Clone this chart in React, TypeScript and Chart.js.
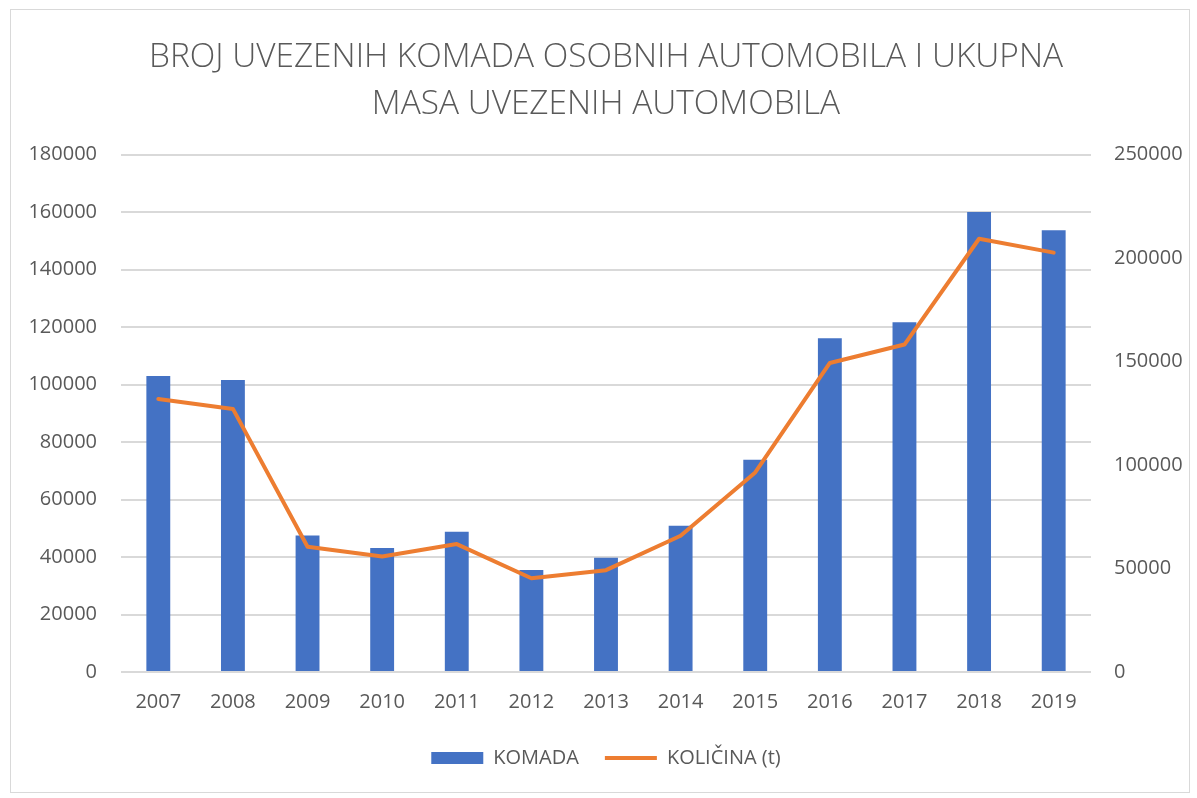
import React, { useEffect, useRef } from "react";
import { Chart, registerables } from "chart.js";

Chart.register(...registerables);

const years = ["2007", "2008", "2009", "2010", "2011", "2012", "2013", "2014", "2015", "2016", "2017", "2018", "2019"];
const komada = [103000, 101600, 47500, 43100, 48800, 35500, 39700, 50900, 73800, 116100, 121700, 160000, 153700];
const kolicina = [131900, 127100, 60500, 55800, 61800, 45300, 49200, 65800, 96400, 149300, 158200, 209300, 202600];
const titleLines = ["BROJ UVEZENIH KOMADA OSOBNIH AUTOMOBILA I UKUPNA", "MASA UVEZENIH AUTOMOBILA"];
const seriesNames = ["KOMADA", "KOLIČINA (t)"];

const TEXT = "#595959";
const GRID = "#d9d9d9";
const BLUE = "#4472C4";
const ORANGE = "#ED7D31";
const FONT = "'Open Sans', 'Liberation Sans', sans-serif";

export default function App() {
  const ref = useRef<HTMLCanvasElement>(null);
  useEffect(() => {
    if (!ref.current) return;
    const chart = new Chart(ref.current, {
      type: "bar",
      data: {
        labels: years,
        datasets: [
          {
            type: "bar",
            label: seriesNames[0],
            data: komada,
            backgroundColor: BLUE,
            borderWidth: 0,
            yAxisID: "y",
            barPercentage: 0.32,
            categoryPercentage: 1,
            order: 2,
          } as any,
          {
            type: "line",
            label: seriesNames[1],
            data: kolicina,
            borderColor: ORANGE,
            backgroundColor: ORANGE,
            borderWidth: 4,
            pointRadius: 0,
            tension: 0,
            borderJoinStyle: "round",
            borderCapStyle: "round",
            yAxisID: "y1",
            order: 1,
          } as any,
        ],
      },
      options: {
        animation: false,
        responsive: true,
        maintainAspectRatio: false,
        layout: { padding: { left: 12, right: 0, top: 0, bottom: 14 } },
        plugins: {
          tooltip: { enabled: false },
          title: {
            display: true,
            text: titleLines,
            color: TEXT,
            font: { family: FONT, size: 33.4, weight: "300" as any, lineHeight: 1.4 },
            padding: { top: 24, bottom: 27 },
          },
          legend: {
            display: true,
            position: "bottom",
            labels: {
              color: TEXT,
              font: { family: FONT, size: 20 },
              usePointStyle: true,
              pointStyleWidth: 52,
              boxHeight: 12,
              padding: 26,
              generateLabels: () => [
                {
                  text: seriesNames[0],
                  fillStyle: BLUE,
                  strokeStyle: BLUE,
                  lineWidth: 0,
                  pointStyle: "rect",
                  datasetIndex: 0,
                  fontColor: TEXT,
                  hidden: false,
                },
                {
                  text: seriesNames[1],
                  fillStyle: ORANGE,
                  strokeStyle: ORANGE,
                  lineWidth: 4,
                  pointStyle: "line",
                  datasetIndex: 1,
                  fontColor: TEXT,
                  hidden: false,
                },
              ],
            },
          },
        },
        scales: {
          x: {
            grid: { display: false },
            border: { display: false },
            ticks: { color: TEXT, font: { family: FONT, size: 20 }, padding: 10, maxRotation: 0 },
            afterFit: (s: any) => {
              s.height = 50;
            },
          },
          y: {
            position: "left",
            min: 0,
            max: 180000,
            ticks: {
              stepSize: 20000,
              color: TEXT,
              font: { family: FONT, size: 20 },
              padding: 24,
              callback: (v: any) => String(v),
            },
            grid: { color: GRID, lineWidth: 2, drawTicks: false },
            border: { display: false },
            afterFit: (s: any) => {
              s.width = 98;
            },
          },
          y1: {
            position: "right",
            min: 0,
            max: 250000,
            ticks: {
              stepSize: 50000,
              color: TEXT,
              font: { family: FONT, size: 20 },
              padding: 23,
              callback: (v: any) => String(v),
            },
            grid: { display: false, drawTicks: false },
            border: { display: false },
            afterFit: (s: any) => {
              s.width = 98;
            },
          },
        },
      },
    });
    return () => chart.destroy();
  }, []);

  return (
    <div
      style={{
        position: "absolute",
        left: 10,
        top: 9,
        width: 1180,
        height: 784,
        border: "1px solid #d9d9d9",
        boxSizing: "border-box",
        background: "#fff",
      }}
    >
      <div style={{ position: "relative", width: "100%", height: "100%" }}>
        <canvas ref={ref} />
      </div>
    </div>
  );
}
